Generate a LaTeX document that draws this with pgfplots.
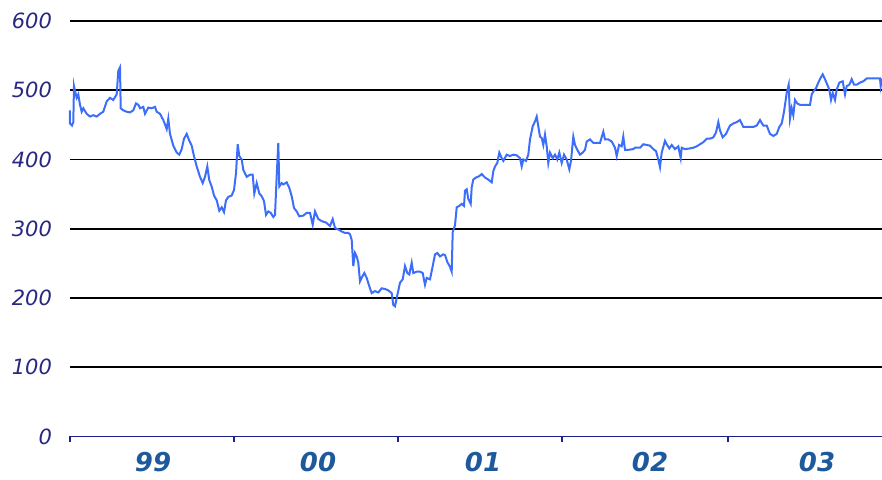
\documentclass[border=0pt]{standalone}
\usepackage{pgfplots}
\pgfplotsset{compat=1.18}
\usepackage{fontspec}
\setmainfont{DejaVu Sans}
\definecolor{linec}{RGB}{60,110,250}
\definecolor{ylab}{RGB}{40,40,130}
\definecolor{xlab}{RGB}{30,90,155}
\definecolor{axc}{RGB}{30,30,140}
\begin{document}
\begin{tikzpicture}
\begin{axis}[
  at={(0,0)}, anchor=south west,
  scale only axis, width=406pt, height=207.75pt,
  xmin=0, xmax=812, ymin=0, ymax=600,
  enlargelimits=false,
  axis x line=bottom, axis y line=left,
  x axis line style={axc, line width=0.8pt, -},
  y axis line style={draw=none},
  ytick={0,100,...,600},
  ytick style={draw=none},
  ymajorgrids,
  major grid style={black, line width=0.8pt},
  xtick={0,164,328,492,658},
  xticklabels={},
  xtick style={axc, line width=0.8pt},
  tick align=outside,
  major tick length=3pt,
  extra x ticks={83,248,413,580,747},
  extra x tick labels={99,00,01,02,03},
  extra x tick style={major tick length=0pt, xticklabel style={font=\fontsize{13}{15}\selectfont\bfseries\itshape, color=xlab, yshift=-4.5pt}},
  /pgf/number format/assume math mode=true,
  yticklabel style={font=\fontsize{10.5}{12}\selectfont\itshape, color=ylab, anchor=east, xshift=-2.5pt},
  clip=false,
]
\addplot[linec, line width=1pt] table {
x y
0 471
0 452
2 449
3.3 454
4 506
5 499
6.7 489
8.3 494
10 479
11.7 469
13.3 474
16.7 466
20 462
23.3 464
26.7 462
30 466
33.3 469
36.7 484
40 489
43.3 486
46.7 494
48.3 528
50 533
50.7 474
53.3 471
56.7 469
60 468
63.3 471
66 481
68.3 479
70 474
73.3 476
75 466
78.3 475
81.7 474
85 476
86.7 469
90 466
93.3 457
96.7 444
98.3 459
100 437
103.3 420
106.7 410
109.3 407
111.7 415
114 430
116.7 437
119.3 427
121.7 420
124 405
126.7 390
130 375
132.7 366
135 375
137.3 390
139.3 370
141.7 361
144 348
146.7 341
149.3 326
151.7 331
154 324
156 341
158.3 346
161.7 348
164 356
166 380
167.7 422
169.3 405
171.7 400
173.3 385
176.7 375
180 378
182.7 378
184.3 351
186.7 366
189.3 351
191.7 347
194 340
196 320
198.3 325
200.7 323
203.3 317
205 320
206.7 376
208.3 424
209.3 361
211.7 366
213.3 364
216.7 367
219.3 359
221.7 347
224 330
226.7 325
229.3 318
233.3 319
236.7 323
240 323
242.7 306
245 325
248.3 314
251.7 311
256 309
260 304
262.7 314
265 301
268.3 299
271.7 296
275 294
278.3 294
280 292
281.7 284
283.3 246
285 265
286.7 260
288.3 251
290 224
292.3 231
294.3 236
296.7 229
299.3 217
301.7 207
305 210
308.3 208
311.7 214
315 213
318.3 211
321.7 207
323.3 190
325 188
326.7 200
330 222
332.7 227
335 246
337.3 236
339.3 234
341.7 251
343.3 236
346.7 238
350 238
352.7 236
355 219
356.7 229
360 227
362.7 246
365 263
367.3 265
370 260
373.3 263
375 262
377.3 252
380 245
381.7 238
382.7 295
385 305
386.7 331
389.3 333
391.7 336
394 333
395 355
396.7 357
398.3 343
400.7 336
401.7 360
403.3 371
406 374
409.3 376
411.7 379
415 374
418.3 371
421.7 367
423.3 383
425 390
427.3 395
429.3 410
431.7 402
433.3 398
436.7 407
440 405
443.3 407
446.7 406
450 402
451.7 390
453.3 400
456 398
458.3 407
460 429
462.7 448
465 455
466.7 462
468.3 448
470 433
471.7 431
473.3 421
475 436
476.7 419
478.3 395
480 410
482.7 402
485 407
487.3 400
489.3 410
491.7 395
494 407
496.7 400
499.3 386
501 398
503.3 433
505 421
507.3 414
510 407
512.7 410
515 414
516.7 426
520 429
523.3 424
526.7 424
530 424
533.3 440
535 429
538.3 429
541.7 426
545 417
546.7 405
549 421
551.7 419
553.3 433
555 414
558.3 414
563.3 415
565 417
570 417
573.3 422
576.7 421
580 420
583.3 415
586 412
588.3 400
590 389
591.7 410
595 427
596.7 422
599.3 416
601.7 421
605 415
608.3 419
610.7 402
611.7 417
615 415
620 416
623.3 417
626.7 419
630 422
633.3 425
636.7 430
640 430
643.3 432
646 439
648.3 454
650 442
652.7 432
656 437
658.3 444
660 449
663.3 452
666.7 454
670 457
673.3 447
676.7 447
680 447
683.3 447
686.7 449
690 457
693.3 449
696.7 449
700 437
703.3 434
706.7 437
709.3 447
711.7 452
714 469
716.7 496
718.7 508
720 459
721.7 474
723.3 464
725 486
727.3 481
730 479
733.3 479
736.7 479
740 479
741.7 494
743.3 498
746 503
748.3 511
750.7 518
752.7 523
755 516
757.3 508
759.3 501
761 486
762.7 496
765 486
766.7 501
769.3 511
772.7 513
775 494
776.7 506
779.3 508
781.7 516
784 508
786.7 508
790 511
793.3 513
796.7 517
803.3 517
810 517
810.7 506
812 517
};
\end{axis}
\pgfresetboundingbox
\path[use as bounding box] (-35pt,-21.75pt) rectangle (406pt,218.25pt);
\end{tikzpicture}
\end{document}
